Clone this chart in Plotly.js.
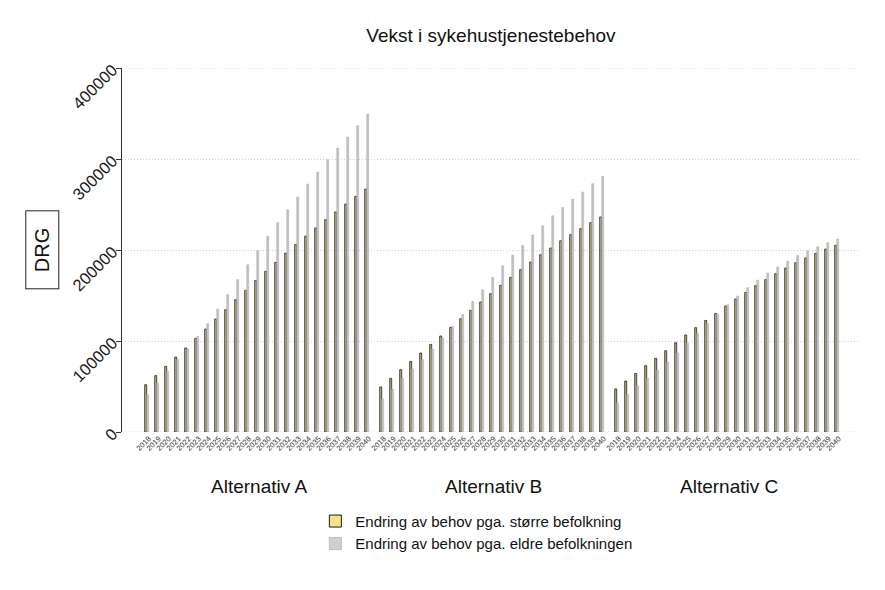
<!DOCTYPE html>
<html>
<head>
<meta charset="utf-8">
<script src="https://cdn.plot.ly/plotly-3.0.1.min.js"></script>
<style>html,body{margin:0;padding:0;background:#fff;}#chart{width:885px;height:590px;}</style>
</head>
<body>
<div id="chart"></div>
<script>
const years = ["2018","2019","2020","2021","2022","2023","2024","2025","2026","2027","2028","2029","2030","2031","2032","2033","2034","2035","2036","2037","2038","2039","2040"];
const groups = ["Alternativ A","Alternativ B","Alternativ C"];
const seriesNames = ["Endring av behov pga. større befolkning","Endring av behov pga. eldre befolkningen"];

const largerA = [52000,61900,72100,82400,92300,102900,113200,124200,134400,145400,155600,166300,176500,186400,196700,206000,215300,224200,233300,241800,250500,258900,267000];
const olderA  = [41000,53800,66600,79500,91200,105100,119000,135200,150900,167400,183800,199600,215300,230300,244300,258300,272500,285700,299200,312100,324200,336600,349500];
const largerB = [49500,58900,68500,77600,86800,96300,105500,114900,124500,133600,142900,152000,161100,169900,178400,186800,194800,202200,210200,216800,223400,230000,236300];
const olderB  = [36300,47300,58900,69200,79500,91200,103300,116000,129200,143500,156400,169900,182700,194500,205100,216500,226700,237700,246800,256000,263700,272900,280900];
const largerC = [47300,56000,64300,72900,80900,89300,98100,106600,114600,122600,130300,138500,146200,153400,160800,167400,174000,180200,186000,191200,196300,201100,205100];
const olderC  = [31900,41300,50900,59300,67900,76900,86800,97800,108000,119000,129200,139900,149500,158600,167000,174700,181300,187900,194100,199200,203600,208000,212100];

const larger = [largerA, largerB, largerC];
const older = [olderA, olderB, olderC];
const yTicks = [0,100000,200000,300000,400000];

// position of each category slot along a linear axis (groups separated by a half-slot gap)
const stride = years.length + 0.5;
const xs = [], tickText = [], yL = [], yO = [];
groups.forEach((g, gi) => {
  years.forEach((yr, i) => {
    xs.push(gi * stride + i);
    tickText.push(yr);
    yL.push(larger[gi][i]);
    yO.push(older[gi][i]);
  });
});

const FONT = 'Liberation Sans, Arial, sans-serif';

const traces = [
  {type:'bar', x:xs, y:yL, name:seriesNames[0], showlegend:false,
   marker:{color:'#bfb27a', line:{color:'#222', width:0.8}}, hoverinfo:'y'},
  {type:'bar', x:xs, y:yO, name:seriesNames[1], showlegend:false,
   marker:{color:'#c2c2c2', line:{color:'#b0b0b0', width:0.5}}, hoverinfo:'y'},
  {type:'bar', x:[null], y:[null], name:seriesNames[0], showlegend:true,
   marker:{color:'#f8e384', line:{color:'#1a1a1a', width:1}}},
  {type:'bar', x:[null], y:[null], name:seriesNames[1], showlegend:true,
   marker:{color:'#d0d0d0', line:{color:'#bdbdbd', width:1}}}
];

const annotations = groups.map((g, gi) => ({
  text:g, xref:'x', yref:'paper', x:gi*stride + (years.length-1)/2, y:-0.151,
  showarrow:false, xanchor:'center', yanchor:'middle',
  font:{family:FONT, size:19, color:'#111'}
}));
annotations.push({
  text:'&nbsp;&nbsp;DRG&nbsp;&nbsp;', xref:'paper', yref:'paper', x:-0.108, y:0.5, showarrow:false,
  textangle:-90, xanchor:'center', yanchor:'middle',
  bordercolor:'#222', borderwidth:1, borderpad:5,
  font:{family:FONT, size:20, color:'#111'}
});

// dotted gridlines at the range edges (0 and 400000) which Plotly omits
const shapes = [yTicks[0], yTicks[yTicks.length-1]].map(v => ({
  type:'line', xref:'paper', yref:'y', x0:0, x1:1, y0:v, y1:v,
  line:{color:'#cfcfcf', width:1, dash:'1px,2px'}, layer:'below'
}));

const layout = {
  width:885, height:590,
  margin:{l:122, r:25, t:68, b:158},
  paper_bgcolor:'#fff', plot_bgcolor:'#fff',
  barmode:'group', bargap:0.2, bargroupgap:0,
  title:{text:'Vekst i sykehustjenestebehov', x:0.5, xref:'paper', y:0.94, yanchor:'middle',
         font:{family:FONT, size:19, color:'#111'}},
  xaxis:{
    range:[-2.67, 2*stride + years.length - 1 + 2.13],
    tickmode:'array', tickvals:xs, ticktext:tickText, tickangle:-45,
    tickfont:{family:FONT, size:7.5, color:'#333'},
    showgrid:false, zeroline:false, showline:false, ticks:'', ticklen:0
  },
  yaxis:{
    range:[0,400000], tickvals:yTicks,
    ticktext:yTicks.map(String),
    tickangle:-45,
    tickfont:{family:FONT, size:16.5, color:'#1a1a1a'},
    showline:true, linecolor:'#333', linewidth:1,
    ticks:'outside', ticklen:5, tickcolor:'#333',
    showgrid:true, gridcolor:'#cfcfcf', griddash:'1px,2px', gridwidth:1,
    zeroline:false
  },
  legend:{orientation:'v', x:0.262, xanchor:'left', y:-0.2, yanchor:'top',
    font:{family:FONT, size:15, color:'#111'},
    bgcolor:'rgba(0,0,0,0)', tracegroupgap:0},
  annotations:annotations,
  shapes:shapes,
  showlegend:true
};

Plotly.newPlot('chart', traces, layout, {displayModeBar:false, staticPlot:true});
</script>
</body>
</html>
